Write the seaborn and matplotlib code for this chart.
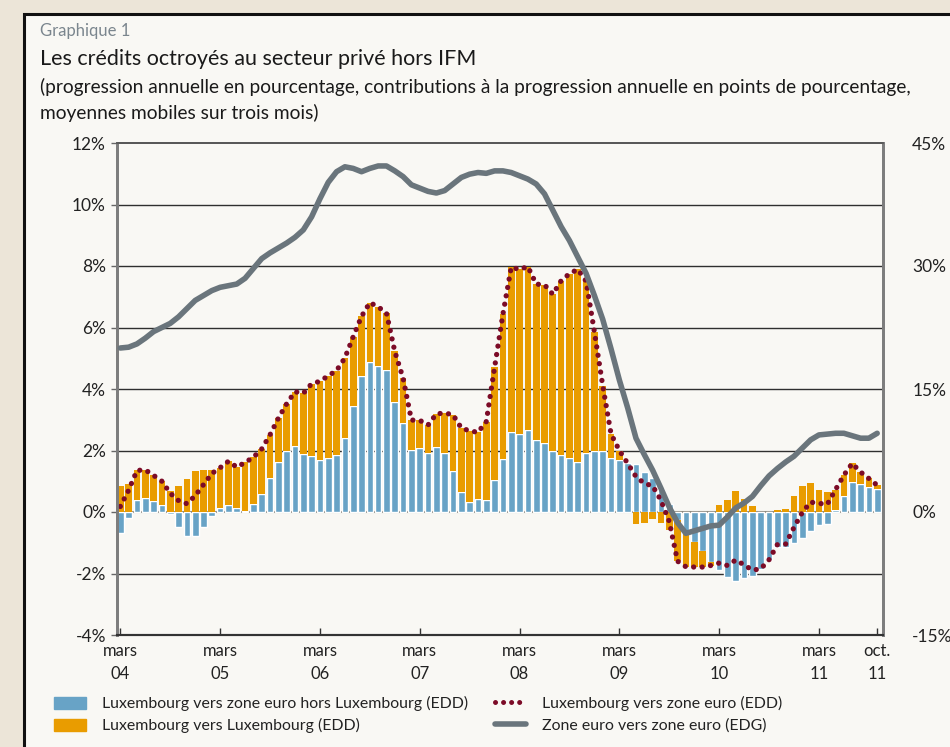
import matplotlib
matplotlib.use("Agg")
import matplotlib.pyplot as plt
import matplotlib.patches as mpatches
from matplotlib.lines import Line2D
import seaborn as sns
import numpy as np
import pandas as pd

# monthly data, mars 2004 -> octobre 2011 (moyennes mobiles sur trois mois)
months = pd.date_range("2004-03-01", "2011-10-01", freq="MS")

# contributions (points de pourcentage), axe de gauche
lux_hors_lux = [
    -0.68, -0.19, 0.38, 0.45, 0.35, 0.22, -0.07, -0.49, -0.79, -0.79,
    -0.49, -0.13, 0.13, 0.22, 0.13, 0.02, 0.26, 0.58, 1.12, 1.62,
    1.97, 2.14, 1.90, 1.82, 1.69, 1.76, 1.84, 2.40, 3.44, 4.41,
    4.89, 4.74, 4.61, 3.59, 2.88, 2.02, 2.08, 1.91, 2.13, 1.91,
    1.32, 0.65, 0.32, 0.41, 0.39, 1.04, 1.71, 2.59, 2.55, 2.68,
    2.34, 2.23, 1.97, 1.84, 1.75, 1.64, 1.91, 2.00, 2.00, 1.75,
    1.70, 1.58, 1.55, 1.29, 1.09, 0.74, 0.27, -0.25, -0.65, -0.96,
    -1.28, -1.61, -1.88, -2.12, -2.23, -2.15, -2.07, -1.85, -1.55, -1.14,
    -1.15, -1.01, -0.85, -0.63, -0.43, -0.40, 0.05, 0.51, 0.98, 0.90,
    0.82, 0.76,
]
lux_lux = [
    0.86, 0.90, 0.97, 0.92, 0.84, 0.78, 0.68, 0.86, 1.06, 1.32,
    1.38, 1.38, 1.31, 1.43, 1.33, 1.59, 1.52, 1.47, 1.39, 1.43,
    1.55, 1.77, 1.96, 2.35, 2.56, 2.67, 2.76, 2.61, 2.26, 1.95,
    1.92, 1.93, 1.86, 1.63, 1.47, 0.97, 0.90, 0.92, 1.06, 1.31,
    1.84, 2.08, 2.32, 2.18, 2.55, 3.66, 4.72, 5.37, 5.34, 5.30,
    5.07, 5.16, 5.11, 5.68, 6.00, 6.25, 5.60, 3.86, 2.11, 0.79,
    0.30, 0.00, -0.40, -0.36, -0.24, -0.36, -0.58, -1.35, -1.13, -0.83,
    -0.51, -0.13, 0.22, 0.38, 0.67, 0.43, 0.18, 0.00, 0.00, 0.08,
    0.11, 0.51, 0.84, 0.95, 0.71, 0.65, 0.68, 0.69, 0.60, 0.40,
    0.27, 0.11,
]
# zone euro vers zone euro (EDG), axe de droite
zone_euro = [
    20.0, 20.1, 20.5, 21.2, 22.0, 22.5, 23.0, 23.8, 24.8, 25.8,
    26.4, 27.0, 27.4, 27.6, 27.8, 28.5, 29.7, 30.9, 31.6, 32.2,
    32.8, 33.5, 34.4, 36.0, 38.2, 40.2, 41.5, 42.1, 41.9, 41.5,
    41.9, 42.2, 42.2, 41.6, 40.9, 39.9, 39.5, 39.1, 38.9, 39.2,
    40.0, 40.8, 41.2, 41.4, 41.3, 41.6, 41.6, 41.4, 41.0, 40.6,
    40.0, 38.8, 36.8, 34.8, 33.1, 31.1, 29.1, 26.4, 23.5, 19.9,
    16.1, 12.7, 9.0, 7.0, 5.1, 2.9, 0.6, -1.3, -2.6, -2.3,
    -2.0, -1.7, -1.6, -0.6, 0.5, 1.1, 1.9, 3.2, 4.4, 5.3,
    6.1, 6.8, 7.8, 8.8, 9.4, 9.5, 9.6, 9.6, 9.3, 9.0,
    9.0, 9.6,
]

tick_idx = [0, 12, 24, 36, 48, 60, 72, 84, 91]
tick_labels = ["mars\n04", "mars\n05", "mars\n06", "mars\n07", "mars\n08",
               "mars\n09", "mars\n10", "mars\n11", "oct.\n11"]
left_ticks = [-4, -2, 0, 2, 4, 6, 8, 10, 12]
right_ticks = [-15, 0, 15, 30, 45]

legend_labels = [
    "Luxembourg vers zone euro hors Luxembourg (EDD)",
    "Luxembourg vers Luxembourg (EDD)",
    "Luxembourg vers zone euro (EDD)",
    "Zone euro vers zone euro (EDG)",
]

BLUE = "#68a3c6"
ORANGE = "#e99c00"
RED = "#7c0b27"
GRAY = "#6a757c"
PANEL = "#f9f8f4"
OUTER = "#ece5d8"
DOTS = (0, (0.01, 1.6))

sns.set_style("white")
plt.rcParams["font.family"] = ["Lato", "DejaVu Sans"]

fig = plt.figure(figsize=(9.5, 7.47), dpi=100, facecolor=OUTER)
panel = mpatches.Rectangle(
    (24 / 950, -0.05), 1.0, 1 - 14 / 747 + 0.05, transform=fig.transFigure,
    facecolor=PANEL, edgecolor="#111111", linewidth=2.2, zorder=-10)
fig.patches.append(panel)

ax = fig.add_axes([117 / 950, 112 / 747, 766 / 950, 492 / 747])
ax.set_facecolor(PANEL)

x = np.arange(len(months))
blue = np.array(lux_hors_lux)
orange = np.array(lux_lux)
total = blue + orange

# stacked bars: positives stack upward, negatives downward
orange_bottom = np.where(orange >= 0, np.clip(blue, 0, None), np.clip(blue, None, 0))

for yv in [-2, 2, 4, 6, 8, 10]:
    ax.axhline(yv, color="#2f2f2f", lw=1.0, zorder=0.5)
ax.axhline(0, color="#8d8a80", lw=1.5, zorder=0.6)

sns.barplot(x=x, y=blue, native_scale=True, width=0.8, color=BLUE,
            saturation=1, errorbar=None, ax=ax, zorder=2)
ax.bar(x, orange, bottom=orange_bottom, width=0.8, color=ORANGE,
       linewidth=0, zorder=2)

sns.lineplot(x=x, y=total, ax=ax, color=RED, lw=3.8,
             linestyle=DOTS, dash_capstyle="round", zorder=3)

ax.set_xlim(-0.4, 91.7)
ax.set_ylim(-4, 12)
ax.set_yticks(left_ticks)
ax.set_yticklabels([f"{v}%" for v in left_ticks])
ax.set_xticks(tick_idx)
ax.set_xticklabels(tick_labels, linespacing=1.5)
ax.set_xlabel("")
ax.set_ylabel("")

ax2 = ax.twinx()
sns.lineplot(x=x, y=zone_euro, ax=ax2, color=GRAY, lw=4.0,
             solid_capstyle="round", zorder=4)
ax2.set_ylim(-15, 45)
ax2.set_yticks(right_ticks)
ax2.set_yticklabels([f"{v}%" for v in right_ticks])
ax2.set_ylabel("")

for a in (ax, ax2):
    a.spines["left"].set_color("#7d7d7d")
    a.spines["left"].set_linewidth(2)
    a.spines["right"].set_color("#7d7d7d")
    a.spines["right"].set_linewidth(2)
    a.spines["bottom"].set_color("#333333")
    a.spines["bottom"].set_linewidth(1.5)
    a.spines["top"].set_color("#555555")
    a.spines["top"].set_linewidth(1.2)

ax.tick_params(axis="y", direction="out", length=4, width=1, color="#666666",
               labelsize=12.5, labelcolor="#222222", pad=4, left=True)
ax.tick_params(axis="x", direction="in", length=5, width=1, color="#333333",
               labelsize=12, labelcolor="#222222", pad=6, bottom=True)
ax2.tick_params(axis="y", direction="out", length=0, labelsize=12.5,
                labelcolor="#222222", pad=21)

fig.text(40 / 950, 1 - 31 / 747, "Graphique 1", fontsize=12, color="#7b868e",
         va="center", ha="left")
fig.text(40 / 950, 1 - 59 / 747, "Les crédits octroyés au secteur privé hors IFM",
         fontsize=15.5, color="#1a1a1a", va="center", ha="left")
fig.text(40 / 950, 1 - 87 / 747,
         "(progression annuelle en pourcentage, contributions à la progression annuelle en points de pourcentage,",
         fontsize=13.8, color="#1a1a1a", va="center", ha="left")
fig.text(40 / 950, 1 - 113 / 747, "moyennes mobiles sur trois mois)",
         fontsize=13.8, color="#1a1a1a", va="center", ha="left")

handles = [
    mpatches.Patch(color=BLUE),
    mpatches.Patch(color=ORANGE),
    Line2D([], [], color=RED, lw=3.6, linestyle=DOTS, dash_capstyle="round"),
    Line2D([], [], color=GRAY, lw=4, solid_capstyle="round"),
]
fig.legend(handles, legend_labels, ncol=2, loc="upper left",
           bbox_to_anchor=(54 / 950, 1 - 696 / 747), frameon=False,
           fontsize=11.4, handlelength=2.0, handleheight=0.8,
           handletextpad=1.0, columnspacing=1.7, labelspacing=0.45,
           borderaxespad=0, borderpad=0, labelcolor="#222222")

fig.savefig("out.png", dpi=100, facecolor=OUTER)
